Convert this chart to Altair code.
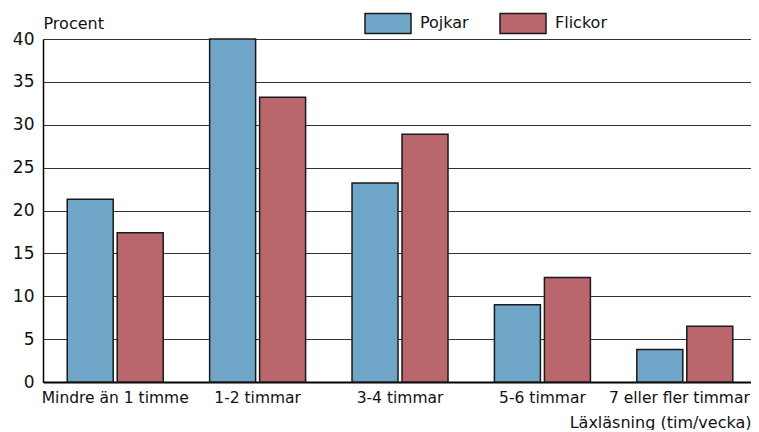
import altair as alt
import pandas as pd

categories = ["Mindre än 1 timme", "1-2 timmar", "3-4 timmar", "5-6 timmar", "7 eller fler timmar"]
series = ["Pojkar", "Flickor"]
pojkar = [21.3, 40.0, 23.2, 9.0, 3.8]
flickor = [17.4, 33.2, 28.9, 12.2, 6.5]
colors = ["#6fa5c6", "#b9666d"]

rows = []
for c, p, f in zip(categories, pojkar, flickor):
    rows.append({"kat": c, "kon": "Pojkar", "v": p})
    rows.append({"kat": c, "kon": "Flickor", "v": f})
df = pd.DataFrame(rows)

FONT = "DejaVu Sans"
W = 708
last_test = "datum.value === '%s'" % categories[-1]

chart = alt.Chart(df).mark_bar(stroke="#1a1a1a", strokeWidth=1.5).encode(
    x=alt.X("kat:N", sort=categories,
            scale=alt.Scale(paddingInner=0.326, paddingOuter=0.149, align=0.571),
            axis=alt.Axis(title="Läxläsning (tim/vecka)", labelAngle=0, ticks=False,
                          labelPadding=8, labelFontSize=15.5, labelColor="#111",
                          labelAlign={"condition": {"test": last_test, "value": "right"}, "value": "center"},
                          labelOffset={"condition": {"test": last_test, "value": 65}, "value": 0},
                          labelBound=False,
                          domainColor="#000", domainWidth=2,
                          titleFontSize=16, titleFontWeight="normal", titleColor="#111",
                          titleAnchor="end", titleAlign="right", titleX=W, titleY=45,
                          titleBaseline="alphabetic")),
    xOffset=alt.XOffset("kon:N", sort=series,
                        scale=alt.Scale(paddingInner=0.08, paddingOuter=0)),
    y=alt.Y("v:Q", scale=alt.Scale(domain=[0, 40], nice=False),
            axis=alt.Axis(title="Procent", values=[0, 5, 10, 15, 20, 25, 30, 35, 40],
                          ticks=False, labelPadding=9, labelFontSize=17, labelColor="#111",
                          domainColor="#000", domainWidth=1.5,
                          grid=True, gridColor="#333", gridWidth=1,
                          titleAngle=0, titleAlign="left", titleX=0, titleY=-11,
                          titleBaseline="alphabetic", titleFontSize=16,
                          titleFontWeight="normal", titleColor="#111")),
    color=alt.Color("kon:N", sort=series,
                    scale=alt.Scale(domain=series, range=colors),
                    legend=alt.Legend(title=None, orient="none", direction="horizontal",
                                      legendX=321, legendY=-40, padding=0,
                                      symbolType="M-1,-0.435H1V0.435H-1Z",
                                      symbolSize=2116, symbolStrokeColor="#1a1a1a",
                                      symbolStrokeWidth=1.5, symbolOpacity=1,
                                      labelFontSize=16, labelColor="#111",
                                      labelOffset=8, columnPadding=28)),
).properties(
    width=W, height=343,
    autosize=alt.AutoSizeParams(type="none"),
    padding={"left": 35, "top": 31, "right": 0, "bottom": 48},
).configure_view(stroke=None).configure(font=FONT)

chart.save("out.html", embed_options={"renderer": "svg", "actions": False})
